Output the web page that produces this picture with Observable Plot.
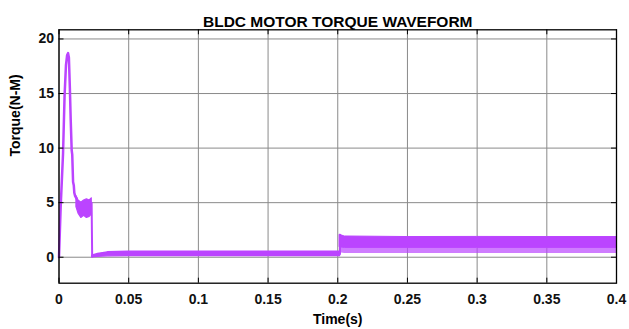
<!DOCTYPE html>
<html>
<head>
<meta charset="utf-8">
<script src="https://cdn.jsdelivr.net/npm/d3@7"></script>
<script src="https://cdn.jsdelivr.net/npm/@observablehq/plot@0.6"></script>
<style>
  html, body { margin: 0; padding: 0; background: #fff; }
</style>
</head>
<body>
<div id="chart"></div>
<script>
// ---- data ----
const title = "BLDC MOTOR TORQUE WAVEFORM";
const xLabel = "Time(s)";
const yLabel = "Torque(N-M)";
const xTicks = [0, 0.05, 0.1, 0.15, 0.2, 0.25, 0.3, 0.35, 0.4];
const yTicks = [0, 5, 10, 15, 20];

// start-up transient (single trace)
const transT = [0, 0.0012, 0.0029, 0.0040, 0.0050, 0.0058, 0.0065, 0.0071, 0.0078, 0.0084, 0.0091, 0.0095, 0.0101, 0.0106, 0.0110, 0.0116, 0.0125];
const transY = [0, 4.6, 9.5, 14.8, 17.6, 18.5, 18.7, 18.3, 15.5, 12.6, 9.8, 9.4, 6.9, 6.6, 5.9, 5.6, 5.4];

// ripple band after the peak
const b1T  = [0.0125, 0.014, 0.016, 0.018, 0.020, 0.022, 0.0235];
const b1Hi = [5.6, 5.2, 5.0, 5.2, 5.3, 5.2, 5.4];
const b1Lo = [4.6, 4.0, 3.6, 3.8, 3.6, 3.7, 3.9];

// drop to no-load
const dropT = [0.0234, 0.0238];
const dropY = [5.0, 0.05];

// no-load band
const b2T  = [0.0238, 0.028, 0.035, 0.05, 0.1, 0.15, 0.2016];
const b2Hi = [0.15, 0.3, 0.45, 0.5, 0.5, 0.5, 0.5];
const b2Lo = [0.0, 0.05, 0.08, 0.1, 0.1, 0.1, 0.1];

// load step
const stepT = [0.2016, 0.2016];
const stepY = [0.3, 2.05];

// loaded band (dense part and lighter ripple below)
const b3T   = [0.2016, 0.205, 0.25, 0.3, 0.35, 0.4];
const b3Hi  = [2.05, 1.9, 1.85, 1.86, 1.85, 1.85];
const b3Mid = [0.9, 0.85, 0.85, 0.85, 0.85, 0.85];
const b3Lo  = [0.4, 0.35, 0.35, 0.35, 0.35, 0.35];

// ---- build tables ----
const trans = transT.map((t, i) => ({t, y: transY[i]}));
const band1 = b1T.map((t, i) => ({t, hi: b1Hi[i], lo: b1Lo[i]}));
const drop = dropT.map((t, i) => ({t, y: dropY[i]}));
const band2 = b2T.map((t, i) => ({t, hi: b2Hi[i], lo: b2Lo[i]}));
const step = stepT.map((t, i) => ({t, y: stepY[i]}));
const band3 = b3T.map((t, i) => ({t, hi: b3Hi[i], mid: b3Mid[i], lo: b3Lo[i]}));

const W = 629, H = 329;
const mL = 58.5, mR = 13, mT = 29.3, mB = 46.3;
const fw = W - mL - mR, fh = H - mT - mB;
const col = "#bb44ff";
const font = "'Liberation Sans', Arial, sans-serif";

const chart = Plot.plot({
  width: W, height: H,
  marginLeft: mL, marginRight: mR, marginTop: mT, marginBottom: mB,
  style: {fontFamily: font, fontWeight: "bold", fontSize: "14px", color: "#111", background: "#fff"},
  x: {domain: [0, 0.4]},
  y: {domain: [-2.38, 20.84]},
  marks: [
    Plot.gridX(xTicks, {stroke: "#8a8a8a", strokeOpacity: 1, strokeWidth: 1}),
    Plot.gridY(yTicks, {stroke: "#8a8a8a", strokeOpacity: 1, strokeWidth: 1}),
    // data
    Plot.areaY(band3, {x: "t", y1: "lo", y2: "mid", fill: col, fillOpacity: 0.7}),
    Plot.areaY(band3, {x: "t", y1: "mid", y2: "hi", fill: col, stroke: col, strokeWidth: 1}),
    Plot.areaY(band2, {x: "t", y1: "lo", y2: "hi", fill: col, stroke: col, strokeWidth: 1.4}),
    Plot.areaY(band1, {x: "t", y1: "lo", y2: "hi", fill: col, stroke: col, strokeWidth: 1.2}),
    Plot.line(trans, {x: "t", y: "y", stroke: col, strokeWidth: 2.5}),
    Plot.line(drop, {x: "t", y: "y", stroke: col, strokeWidth: 2}),
    Plot.line(step, {x: "t", y: "y", stroke: col, strokeWidth: 2}),
    // inward ticks
    Plot.tickX(xTicks, {x: d => d, stroke: "#000", insetTop: fh - 5}),
    Plot.tickX(xTicks, {x: d => d, stroke: "#000", insetBottom: fh - 5}),
    Plot.tickY(yTicks, {y: d => d, stroke: "#000", insetRight: fw - 5}),
    Plot.tickY(yTicks, {y: d => d, stroke: "#000", insetLeft: fw - 5}),
    Plot.frame({stroke: "#000", strokeWidth: 1.3}),
    // axes
    Plot.axisX(xTicks, {tickSize: 0, tickPadding: 11, tickFormat: d => String(d), fontSize: 14, label: null}),
    Plot.axisY(yTicks, {tickSize: 0, tickPadding: 5, tickFormat: d => String(d), fontSize: 14, label: null}),
    // titles
    Plot.text([title], {frameAnchor: "top", dy: -13.5, text: d => d, fontSize: 15.5, fontWeight: "bold", fill: "#000"}),
    Plot.text([xLabel], {frameAnchor: "bottom", dy: 41, text: d => d, fontSize: 14, fontWeight: "bold", fill: "#000"}),
    Plot.text([yLabel], {frameAnchor: "left", dx: -43, rotate: -90, text: d => d, fontSize: 14, fontWeight: "bold", fill: "#000"})
  ]
});
document.getElementById("chart").appendChild(chart);
</script>
</body>
</html>
